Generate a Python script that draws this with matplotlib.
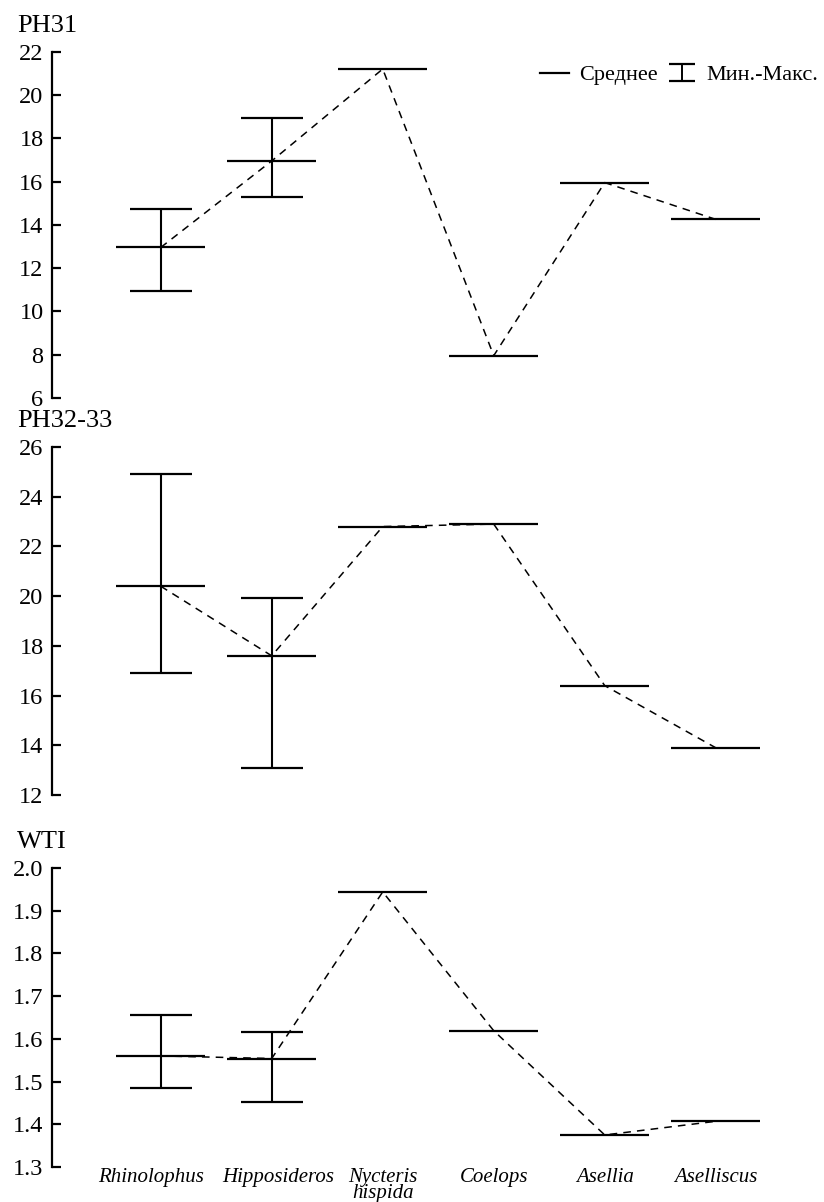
import matplotlib
matplotlib.use("Agg")
import matplotlib.pyplot as plt
import matplotlib.transforms as mtransforms
import numpy as np
from matplotlib.lines import Line2D
from matplotlib.legend_handler import HandlerErrorbar
from matplotlib.ticker import FormatStrFormatter

plt.rcParams['font.family'] = ['Liberation Serif', 'DejaVu Serif']

# данные
genera = ['Rhinolophus', 'Hipposideros', 'Nycteris\nhispida', 'Coelops', 'Asellia', 'Aselliscus']

ph31_mean = [12.95, 16.95, 21.2, 7.95, 15.95, 14.25]
ph31_min = [10.95, 15.3, np.nan, np.nan, np.nan, np.nan]
ph31_max = [14.75, 18.95, np.nan, np.nan, np.nan, np.nan]

ph32_mean = [20.4, 17.6, 22.8, 22.9, 16.4, 13.9]
ph32_min = [16.9, 13.1, np.nan, np.nan, np.nan, np.nan]
ph32_max = [24.9, 19.93, np.nan, np.nan, np.nan, np.nan]

wti_mean = [1.56, 1.554, 1.944, 1.619, 1.375, 1.407]
wti_min = [1.485, 1.452, np.nan, np.nan, np.nan, np.nan]
wti_max = [1.655, 1.616, np.nan, np.nan, np.nan, np.nan]

panels = [
    ('PH31', ph31_mean, ph31_min, ph31_max, (6, 22), np.arange(6, 23, 2), '%d'),
    ('PH32-33', ph32_mean, ph32_min, ph32_max, (12, 26), np.arange(12, 27, 2), '%d'),
    ('WTI', wti_mean, wti_min, wti_max, (1.3, 2.0), np.arange(1.3, 2.01, 0.1), '%.1f'),
]

# позиции осей в долях фигуры
boxes = [
    [0.063, 0.669, 0.873, 0.288],
    [0.063, 0.3386, 0.873, 0.2895],
    [0.063, 0.0291, 0.873, 0.2488],
]

fig = plt.figure(figsize=(8.24, 12.02), dpi=100)
x = np.arange(len(genera))

for i, (name, mean, lo, hi, ylim, yticks, fmt) in enumerate(panels):
    ax = fig.add_axes(boxes[i])
    mean = np.array(mean)
    lo = np.array(lo)
    hi = np.array(hi)

    ax.plot(x, mean, color='k', lw=1.1, ls=(0, (5, 4)))
    ax.hlines(mean, x - 0.4, x + 0.4, color='k', lw=1.6)
    ok = ~np.isnan(lo)
    ax.errorbar(x[ok], mean[ok], yerr=[mean[ok] - lo[ok], hi[ok] - mean[ok]],
                fmt='none', ecolor='k', elinewidth=1.5, capsize=22, capthick=1.6)

    ax.set_xlim(-0.98, 5.5)
    ax.set_ylim(*ylim)
    ax.set_yticks(yticks)
    ax.yaxis.set_major_formatter(FormatStrFormatter(fmt))
    for s in ['top', 'right', 'bottom']:
        ax.spines[s].set_visible(False)
    ax.spines['left'].set_linewidth(1.6)
    ax.tick_params(axis='y', direction='in', length=6.5, width=1.6, labelsize=17.5, pad=6)
    ax.annotate(name, xy=(0, 1), xycoords='axes fraction', xytext=(-25, 14.5),
                textcoords='offset points', fontsize=19, ha='left', va='baseline')

    if i == 2:
        ax.set_xticks(x)
        labels = ax.set_xticklabels(genera, fontsize=15, style='italic', linespacing=0.78, va='top')
        ax.tick_params(axis='x', length=0, pad=0.5)
        # первые две подписи немного разведены, как в оригинале
        for lab, dx in zip(labels[:2], [-7, 5]):
            lab.set_transform(lab.get_transform() +
                              mtransforms.ScaledTranslation(dx / 72, 0, fig.dpi_scale_trans))
    else:
        ax.set_xticks([])

    if i == 0:
        # маленький значок для легенды (оси вне рисунка)
        dummy = fig.add_axes([2, 2, 0.01, 0.01])
        dummy.set_axis_off()
        eb_leg = dummy.errorbar([0], [0], yerr=[1], fmt='none', ecolor='k',
                                elinewidth=1.4, capsize=9.5, capthick=1.6)
        h_mean = Line2D([], [], color='k', lw=1.6)
        fig.legend([h_mean, eb_leg], ['Среднее', 'Мин.-Макс.'], loc='center right',
                   bbox_to_anchor=(1.007, 1 - 75 / 1202), bbox_transform=fig.transFigure,
                   ncol=2, frameon=False, fontsize=16,
                   handlelength=1.3, handletextpad=0.45, columnspacing=0.45, borderpad=0,
                   handler_map={eb_leg: HandlerErrorbar(yerr_size=0.38)})

fig.savefig('out.png', dpi=100)
